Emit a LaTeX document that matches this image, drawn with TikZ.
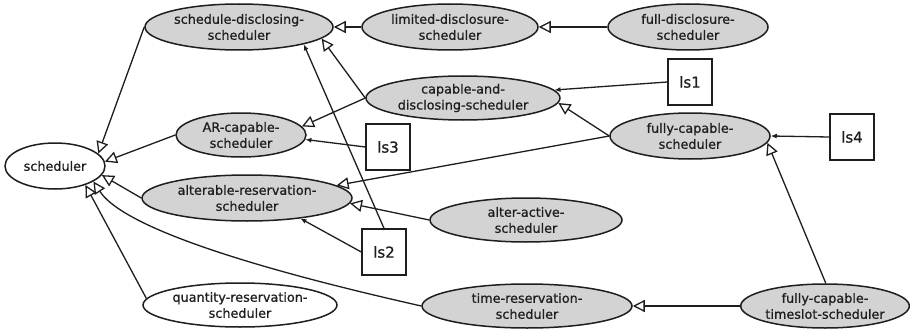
\documentclass[tikz,border=0pt]{standalone}
\usepackage{fontspec}
\setmainfont{DejaVu Sans}[FakeBold=0.8]
\usetikzlibrary{shapes.geometric,arrows.meta}
\definecolor{ellgray}{HTML}{D3D3D3}
\definecolor{ink}{HTML}{1E1E1E}
\tikzset{
  cls/.style={ellipse, draw=ink, line width=1.5pt, fill=ellgray, inner sep=0pt,
    align=center, text=ink, font=\fontsize{12.8}{16}\selectfont},
  wcls/.style={cls, fill=white},
  lsbox/.style={rectangle, draw=ink, line width=1.4pt, fill=white, inner sep=0pt,
    minimum width=44pt, minimum height=46pt, text=ink, font=\fontsize{15}{18}\selectfont},
  gen/.style={draw=ink, line width=1.3pt, -{Triangle[open, length=12pt, width=12pt, line width=1.3pt, fill=white]}},
  assoc/.style={draw=ink, line width=1.3pt, -{Latex[length=6pt, width=5pt]}}
}
\begin{document}
\begin{tikzpicture}[x=1pt,y=-1pt]
\useasboundingbox[fill=white] (0,0) rectangle (910,329);
% nodes
\node[wcls, minimum width=100pt, minimum height=46pt] (sch) at (55,166) {scheduler};
\node[cls, minimum width=188pt, minimum height=46pt] (sd) at (239,27) {schedule-disclosing-\\scheduler};
\node[cls, minimum width=176pt, minimum height=46pt] (ld) at (450,27) {limited-disclosure-\\scheduler};
\node[cls, minimum width=160pt, minimum height=46pt] (fd) at (688,27) {full-disclosure-\\scheduler};
\node[cls, minimum width=194pt, minimum height=44pt] (cd) at (463,98) {capable-and-\\disclosing-scheduler};
\node[cls, minimum width=130pt, minimum height=44pt] (ar) at (241,135) {AR-capable-\\scheduler};
\node[cls, minimum width=160pt, minimum height=46pt] (fc) at (690,136) {fully-capable-\\scheduler};
\node[cls, minimum width=210pt, minimum height=46pt] (alt) at (247,198) {alterable-reservation-\\scheduler};
\node[cls, minimum width=192pt, minimum height=44pt] (aa) at (526,220) {alter-active-\\scheduler};
\node[wcls, minimum width=194pt, minimum height=44pt] (qr) at (240,305) {quantity-reservation-\\scheduler};
\node[cls, minimum width=210pt, minimum height=44pt] (tr) at (527,306) {time-reservation-\\scheduler};
\node[cls, minimum width=168pt, minimum height=44pt] (fct) at (825,306) {fully-capable-\\timeslot-scheduler};
\node[lsbox] (ls1) at (690,82) {ls1};
\node[lsbox] (ls3) at (388,147) {ls3};
\node[lsbox] (ls4) at (852,137) {ls4};
\node[lsbox] (ls2) at (384,252) {ls2};
% generalizations
\draw[gen] (ld.west) -- (sd.east);
\draw[gen] (fd.west) -- (ld.east);
\draw[gen] (sd.west) -- (sch.16);
\draw[gen] (ar.west) -- (sch.5);
\draw[gen] (alt.west) -- (sch.-11);
\draw[gen] (tr.west) .. controls (315,282) and (129,236) .. (sch.-22);
\draw[gen] (qr.176) -- (sch.-32);
\draw[gen] (cd.west) -- (ar.8);
\draw[gen] (cd.west) -- (sd.-8);
\draw[gen] (fc.west) -- (cd.-3);
\draw[gen] (fc.west) -- (alt.8);
\draw[gen] (aa.west) -- (alt.-3);
\draw[gen] (fct.88) -- (fc.-5);
\draw[gen] (fct.west) -- (tr.east);
% associations
\draw[assoc] (ls1.west) -- (cd.5);
\draw[assoc] (ls3.west) -- (ar.-4);
\draw[assoc] (ls4.west) -- (fc.east);
\draw[assoc] (ls2.north) -- (sd.-15);
\draw[assoc] (ls2.west) -- (alt.-21);
\end{tikzpicture}
\end{document}
